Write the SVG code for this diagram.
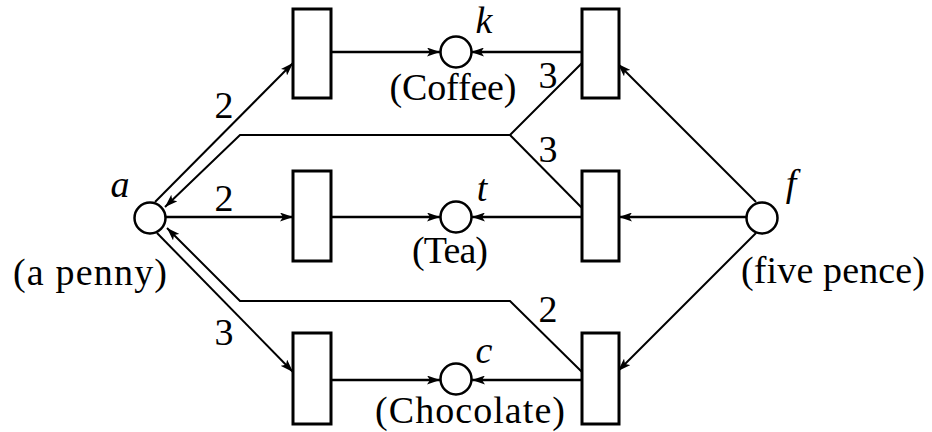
<svg xmlns="http://www.w3.org/2000/svg" width="932" height="432" viewBox="0 0 932 432">
<style>
text{font-family:'Liberation Serif','DejaVu Serif','Times New Roman',serif;font-size:38px;fill:#000;text-anchor:middle}
.it{font-style:italic}
.place{fill:#fff;stroke:#000;stroke-width:2.5}
.trans{fill:#fff;stroke:#000;stroke-width:3}
.arc{fill:none;stroke:#000;stroke-width:2}
.h{stroke-width:2.6}
</style>
<defs>
<marker id="ah" viewBox="0 0 13 9" refX="13" refY="4.5" markerWidth="13" markerHeight="9" orient="auto" markerUnits="userSpaceOnUse">
<path d="M0,0 L13,4.5 L0,9 L3,4.5 z" fill="#000"/>
</marker>
</defs>
<g id="connectors" font-family="Liberation Serif, DejaVu Serif, serif">
<path class="arc" d="M155,202 L293,63" marker-end="url(#ah)"/>
<path class="arc h" d="M331,52 L440,52" marker-end="url(#ah)"/>
<path class="arc h" d="M582,52 L471,52" marker-end="url(#ah)"/>
<path class="arc" d="M756,202 L618,64" marker-end="url(#ah)"/>
<path class="arc" d="M582,63 L510,135 L240,135 L165,207" marker-end="url(#ah)"/>
<path class="arc" d="M582,208 L510,135"/>
<path class="arc h" d="M165,217 L293,217" marker-end="url(#ah)"/>
<path class="arc h" d="M331,217 L440,217" marker-end="url(#ah)"/>
<path class="arc h" d="M582,217 L472,217" marker-end="url(#ah)"/>
<path class="arc h" d="M746,217 L619,217" marker-end="url(#ah)"/>
<path class="arc" d="M582,372 L510,301 L240,301 L167,228" marker-end="url(#ah)"/>
<path class="arc" d="M157,233 L293,372" marker-end="url(#ah)"/>
<path class="arc h" d="M331,380 L440,380" marker-end="url(#ah)"/>
<path class="arc h" d="M582,380 L472,380" marker-end="url(#ah)"/>
<path class="arc" d="M756,233 L618,371" marker-end="url(#ah)"/>
<text x="224" y="118">2</text>
<text x="548" y="88">3</text>
<text x="548" y="162">3</text>
<text x="224" y="211">2</text>
<text x="548" y="322">2</text>
<text x="224" y="345">3</text>
</g>
<g id="place-a" font-family="Liberation Serif, DejaVu Serif, serif">
<circle class="place" cx="150" cy="218" r="15.5"/>
<text class="it" x="120" y="197">a</text>
<text x="90" y="285" textLength="154">(a penny)</text>
</g>
<g id="place-f" font-family="Liberation Serif, DejaVu Serif, serif">
<circle class="place" cx="762" cy="218" r="15.5"/>
<text class="it" x="791" y="196">f</text>
<text x="833" y="283" textLength="184">(five pence)</text>
</g>
<g id="place-k" font-family="Liberation Serif, DejaVu Serif, serif">
<circle class="place" cx="456" cy="52" r="15.5"/>
<text class="it" x="484" y="33">k</text>
<text x="453" y="100" textLength="127">(Coffee)</text>
</g>
<g id="place-t" font-family="Liberation Serif, DejaVu Serif, serif">
<circle class="place" cx="456" cy="217" r="15.5"/>
<text class="it" x="482" y="201">t</text>
<text x="450" y="263" textLength="76">(Tea)</text>
</g>
<g id="place-c" font-family="Liberation Serif, DejaVu Serif, serif">
<circle class="place" cx="456" cy="379" r="15.5"/>
<text class="it" x="484" y="363">c</text>
<text x="470" y="423" textLength="190">(Chocolate)</text>
</g>
<g id="trans-coffee-buy"><rect class="trans" x="293" y="9" width="38" height="89"/></g>
<g id="trans-coffee-sell"><rect class="trans" x="582" y="9" width="37" height="89"/></g>
<g id="trans-tea-buy"><rect class="trans" x="293" y="171" width="38" height="90"/></g>
<g id="trans-tea-sell"><rect class="trans" x="582" y="171" width="37" height="90"/></g>
<g id="trans-choc-buy"><rect class="trans" x="293" y="333" width="38" height="91"/></g>
<g id="trans-choc-sell"><rect class="trans" x="582" y="333" width="37" height="91"/></g>
</svg>
